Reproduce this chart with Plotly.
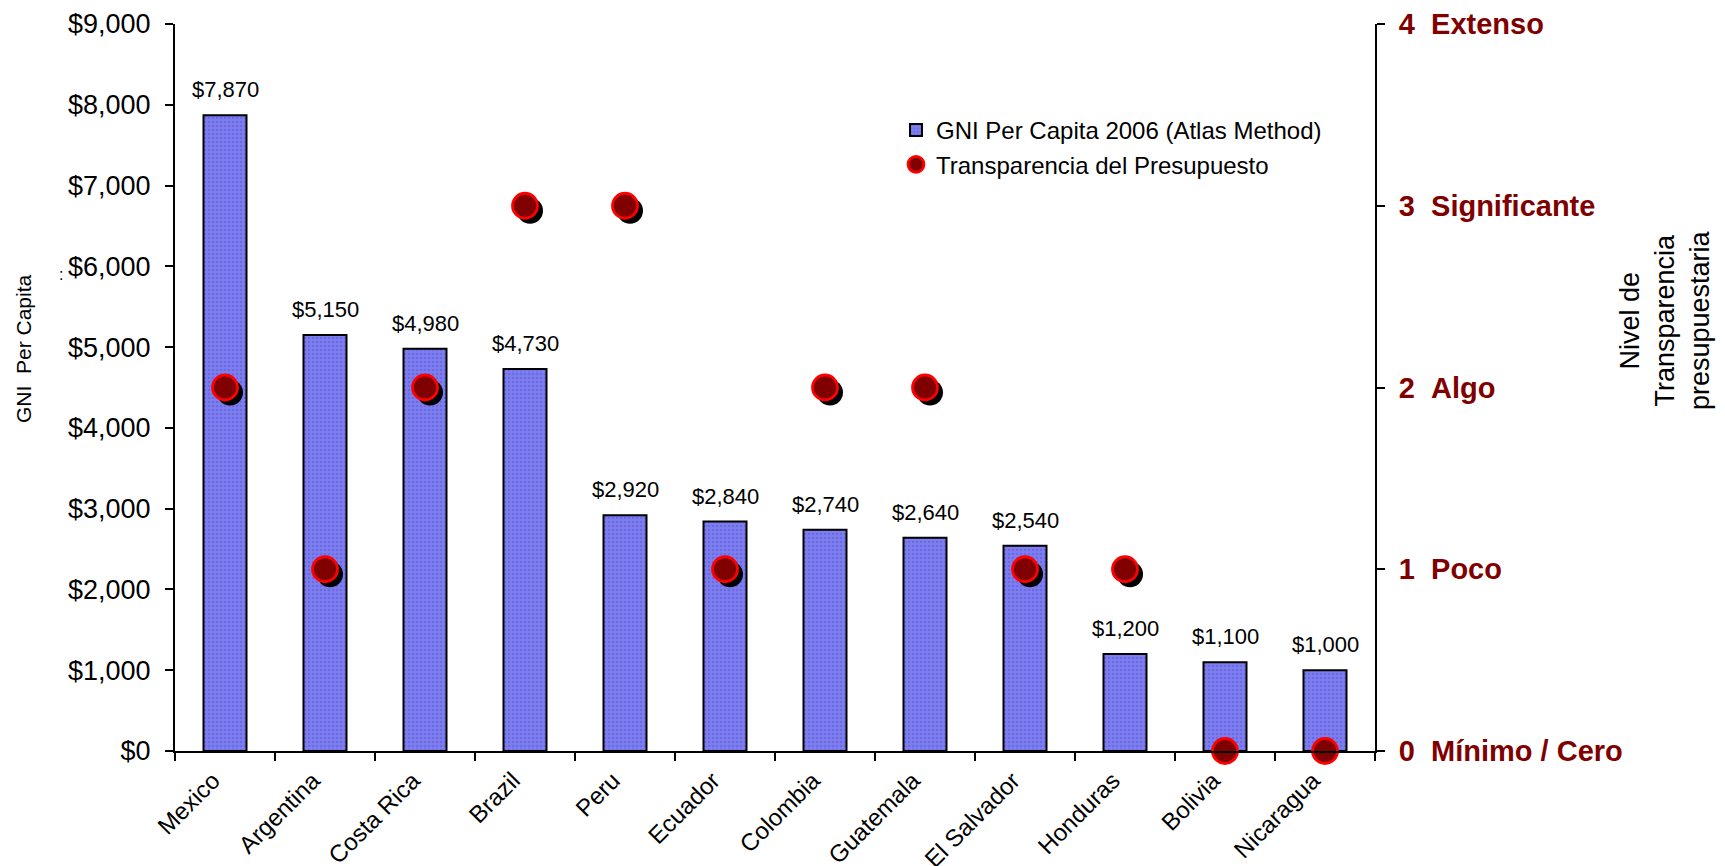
import plotly.graph_objects as go

countries = ["Mexico", "Argentina", "Costa Rica", "Brazil", "Peru", "Ecuador",
             "Colombia", "Guatemala", "El Salvador", "Honduras", "Bolivia", "Nicaragua"]
gni = [7870, 5150, 4980, 4730, 2920, 2840, 2740, 2640, 2540, 1200, 1100, 1000]
transparency = [2, 1, 2, 3, 3, 1, 2, 2, 1, 1, 0, 0]
gni_ticks = [0, 1000, 2000, 3000, 4000, 5000, 6000, 7000, 8000, 9000]
level_ticks = [0, 1, 2, 3, 4]
level_names = ["Mínimo / Cero", "Poco", "Algo", "Significante", "Extenso"]

W, H = 1725, 866
OFF = 8  # page body margin offset
# desired plot area in viewport pixels
VX0, VX1, VY0, VY1 = 175, 1375, 24, 751
ML, MT = VX0 - OFF, VY0 - OFF
MR, MB = W - (VX1 - OFF), H - (VY1 - OFF)
PW, PH = VX1 - VX0, VY1 - VY0
FONT = "Liberation Sans, Arial, sans-serif"
DARKRED = "#800000"


def px(vx, vy):
    """viewport pixel -> paper coords"""
    fx, fy = vx - OFF, vy - OFF
    return (fx - ML) / PW, (H - MB - fy) / PH


SH = 5.0
dx = SH / (PW / len(countries))
dy = SH / (PH / 4)

fig = go.Figure()
fig.add_trace(go.Bar(
    x=countries, y=gni, name="GNI Per Capita 2006 (Atlas Method)",
    marker=dict(color="#7C7CEE", line=dict(color="black", width=2),
                pattern=dict(shape=".", fgcolor="#5656D4", bgcolor="#7E7EF0", size=4, solidity=0.35)),
    width=0.43, xaxis="x", yaxis="y",
))
fig.add_trace(go.Scatter(
    x=countries, y=transparency, mode="markers", showlegend=False, hoverinfo="skip",
    marker=dict(size=26, color="black", line=dict(width=0)),
    xaxis="x2", yaxis="y2", cliponaxis=False,
))
fig.add_trace(go.Scatter(
    x=countries, y=transparency, mode="markers", name="Transparencia del Presupuesto",
    marker=dict(size=25, color=DARKRED, line=dict(color="#FF0000", width=2.8)),
    xaxis="x3", yaxis="y3", cliponaxis=False,
))

for c, v in zip(countries, gni):
    fig.add_annotation(x=c, y=v, xref="x", yref="y", text=f"${v:,}", showarrow=False,
                       yanchor="bottom", yshift=11, font=dict(size=22, color="black", family=FONT))

ax, ay = px(23, 349)
fig.add_annotation(x=ax, y=ay, xref="paper", yref="paper", text="GNI\u00a0\u00a0Per Capita",
                   textangle=-90, showarrow=False, font=dict(size=21, color="black", family=FONT),
                   xanchor="center", yanchor="middle")
ax, ay = px(57, 274)
fig.add_annotation(x=ax, y=ay, xref="paper", yref="paper", text=":", showarrow=False,
                   font=dict(size=16, family=FONT, color="black"))
ax, ay = px(1665, 320)
fig.add_annotation(x=ax, y=ay, xref="paper", yref="paper",
                   text="Nivel de<br>Transparencia<br>presupuestaria", textangle=-90, showarrow=False,
                   font=dict(size=27, family=FONT, color="black"), align="center",
                   xanchor="center", yanchor="middle")

lx, ly = px(896, 108)

fig.update_layout(
    width=W, height=H,
    margin=dict(l=ML, r=MR, t=MT, b=MB, pad=0, autoexpand=False),
    paper_bgcolor="white", plot_bgcolor="white",
    font=dict(family=FONT, color="black"),
    showlegend=True,
    legend=dict(x=lx, y=ly, xanchor="left", yanchor="top",
                font=dict(size=24, family=FONT, color="black"), bgcolor="rgba(0,0,0,0)",
                itemwidth=30),
    xaxis=dict(type="category", range=[-0.5, 11.5], showline=True, linecolor="black", linewidth=2,
               ticks="outside", ticklen=8, tickwidth=2, tickcolor="black", tickson="boundaries",
               tickangle=-45, tickfont=dict(size=24, family=FONT), showgrid=False, zeroline=False,
               automargin=False, ticklabelshift=-12, ticklabelstandoff=4),
    yaxis=dict(range=[0, 9000], tickvals=gni_ticks, ticktext=[f"${v:,}" for v in gni_ticks],
               showline=True, linecolor="black", linewidth=2, ticks="outside", ticklen=8,
               tickwidth=2, tickcolor="black", tickfont=dict(size=27, family=FONT),
               showgrid=False, zeroline=False, ticklabelstandoff=9, automargin=False),
    xaxis2=dict(type="category", overlaying="x", range=[-0.5 - dx, 11.5 - dx], visible=False,
                categoryorder="array", categoryarray=countries),
    yaxis2=dict(overlaying="y", range=[0 + dy, 4 + dy], visible=False),
    xaxis3=dict(type="category", overlaying="x", range=[-0.5, 11.5], visible=False,
                categoryorder="array", categoryarray=countries),
    yaxis3=dict(overlaying="y", side="right", range=[0, 4], tickvals=level_ticks,
                ticktext=[f"{t}\u00a0\u00a0{n}" for t, n in zip(level_ticks, level_names)],
                showline=True, linecolor="black", linewidth=2, ticks="outside", ticklen=8,
                tickwidth=2, tickcolor="black",
                tickfont=dict(size=29, family=FONT, color=DARKRED, weight="bold"),
                showgrid=False, zeroline=False, ticklabelstandoff=8, anchor="x3", automargin=False),
)

fig.write_html("out.html")
